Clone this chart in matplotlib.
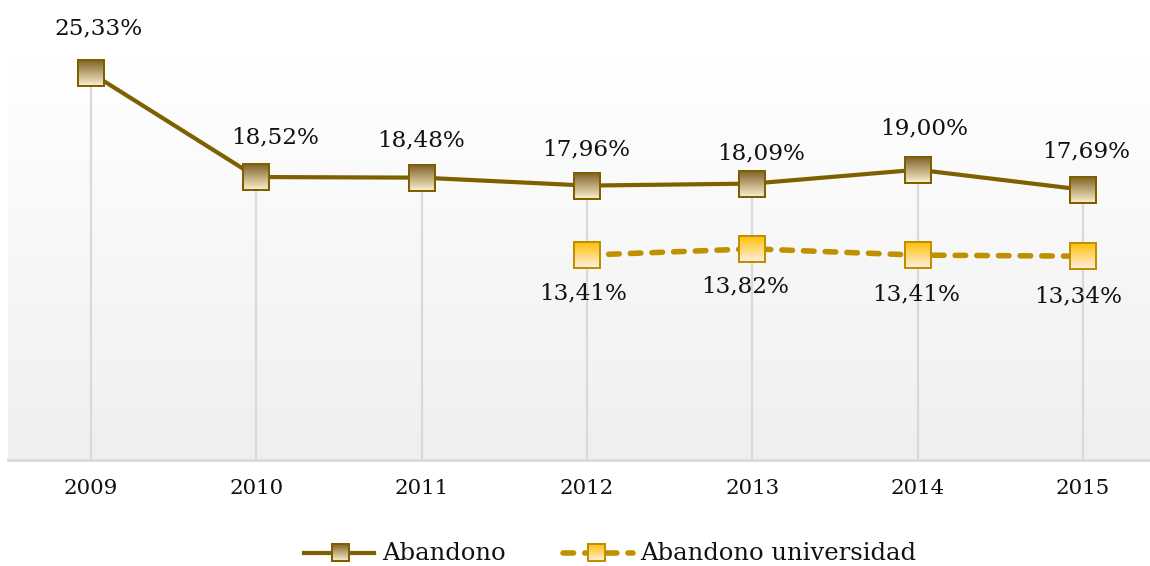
import numpy as np
import matplotlib

matplotlib.use("Agg")
import matplotlib.pyplot as plt
from matplotlib.lines import Line2D
from matplotlib.offsetbox import AnnotationBbox, OffsetImage
from matplotlib.colors import to_rgb

years = ["2009", "2010", "2011", "2012", "2013", "2014", "2015"]
abandono = [25.33, 18.52, 18.48, 17.96, 18.09, 19.00, 17.69]
abandono_univ = [np.nan, np.nan, np.nan, 13.41, 13.82, 13.41, 13.34]
series_names = ["Abandono", "Abandono universidad"]

# label offsets in pixels (dx, dy), as placed in the original
offsets_a = [(7, 45), (19, 40), (-1, 37), (-1, 36), (9, 30), (6, 41), (3, 38)]
offsets_u = [None, None, None, (-4, -38), (-7, -38), (-2, -39), (-5, -40)]

DARK = "#7f6000"
GOLD = "#bf9000"
GRID = "#d9d9d9"
FONT = "DejaVu Serif"
TXT = "#111111"


def marker_image(size, edge, top, bottom, border=2):
    img = np.ones((size, size, 4))
    t = np.linspace(0, 1, size)[:, None]
    c_top = np.array(to_rgb(top))
    c_bot = np.array(to_rgb(bottom))
    grad = c_top * (1 - t) + c_bot * t
    img[:, :, :3] = grad[:, None, :]
    e = np.array(to_rgb(edge))
    img[:border, :, :3] = e
    img[-border:, :, :3] = e
    img[:, :border, :3] = e
    img[:, -border:, :3] = e
    return img


def fmt(v):
    return f"{v:.2f}".replace(".", ",") + "%"


def place_marker(ax, img, x, y):
    box = OffsetImage(img, zoom=1, dpi_cor=False)
    ax.add_artist(AnnotationBbox(box, (x, y), frameon=False, pad=0, zorder=5))


fig = plt.figure(figsize=(11.5, 5.66), dpi=100)
ax = fig.add_axes([8 / 1150, 106 / 566, 1 - 8 / 1150, 400 / 566])

w = np.linspace(1.0, 0.0, 256)[:, None, None]
bg = np.ones((256, 1, 3)) * w + np.array(to_rgb("#efefef")) * (1 - w)
ax.imshow(bg, extent=[0, 1, 0, 1], transform=ax.transAxes, aspect="auto", zorder=0)

x = np.arange(len(years))
a = np.array(abandono)
u = np.array(abandono_univ)

ax.vlines(x, 0, a, color=GRID, lw=1.6, zorder=1)
ax.plot(x, a, color=DARK, lw=3, zorder=3, solid_capstyle="round")
ax.plot(x, u, color=GOLD, lw=4, ls=(0, (1.9, 2.0)), dash_capstyle="round", zorder=3)

img_a = marker_image(28, DARK, "#7d5f22", "#fff4d4")
img_u = marker_image(28, GOLD, "#ffbf00", "#fff0e8")

for xi, v, off in zip(x, a, offsets_a):
    place_marker(ax, img_a, xi, v)
    ax.annotate(fmt(v), (xi, v), xytext=off, textcoords="offset pixels",
                ha="center", va="center", fontsize=16.7, family=FONT, color=TXT)
for xi, v, off in zip(x, u, offsets_u):
    if np.isnan(v):
        continue
    place_marker(ax, img_u, xi, v)
    ax.annotate(fmt(v), (xi, v), xytext=off, textcoords="offset pixels",
                ha="center", va="center", fontsize=16.7, family=FONT, color=TXT)

ax.set_xlim(-0.502, 6.405)
ax.set_ylim(0, 26.18)
ax.set_xticks(x)
ax.set_xticklabels(years, family=FONT, fontsize=15.4, color=TXT)
ax.tick_params(axis="x", length=0, pad=14)
ax.set_yticks([])
for side in ["top", "left", "right"]:
    ax.spines[side].set_visible(False)
ax.spines["bottom"].set_color(GRID)
ax.spines["bottom"].set_linewidth(2)

# legend
ly = 13 / 566
fig.add_artist(Line2D([304 / 1150, 374 / 1150], [ly, ly], color=DARK, lw=3,
                      transform=fig.transFigure))
fig.add_artist(Line2D([563 / 1150, 633 / 1150], [ly, ly], color=GOLD, lw=4,
                      ls=(0, (1.9, 2.0)), dash_capstyle="round", transform=fig.transFigure))
for cx, img in [(340, marker_image(19, DARK, "#7d5f22", "#fff4d4")),
                (596, marker_image(19, GOLD, "#ffbf00", "#fff0e8"))]:
    box = OffsetImage(img, zoom=1, dpi_cor=False)
    fig.add_artist(AnnotationBbox(box, (cx / 1150, ly), xycoords="figure fraction",
                                  frameon=False, pad=0))
fig.text(382 / 1150, ly, series_names[0], ha="left", va="center", fontsize=17.5,
         family=FONT, color=TXT)
fig.text(640 / 1150, ly, series_names[1], ha="left", va="center", fontsize=17.5,
         family=FONT, color=TXT)

fig.savefig("out.png", dpi=100)
